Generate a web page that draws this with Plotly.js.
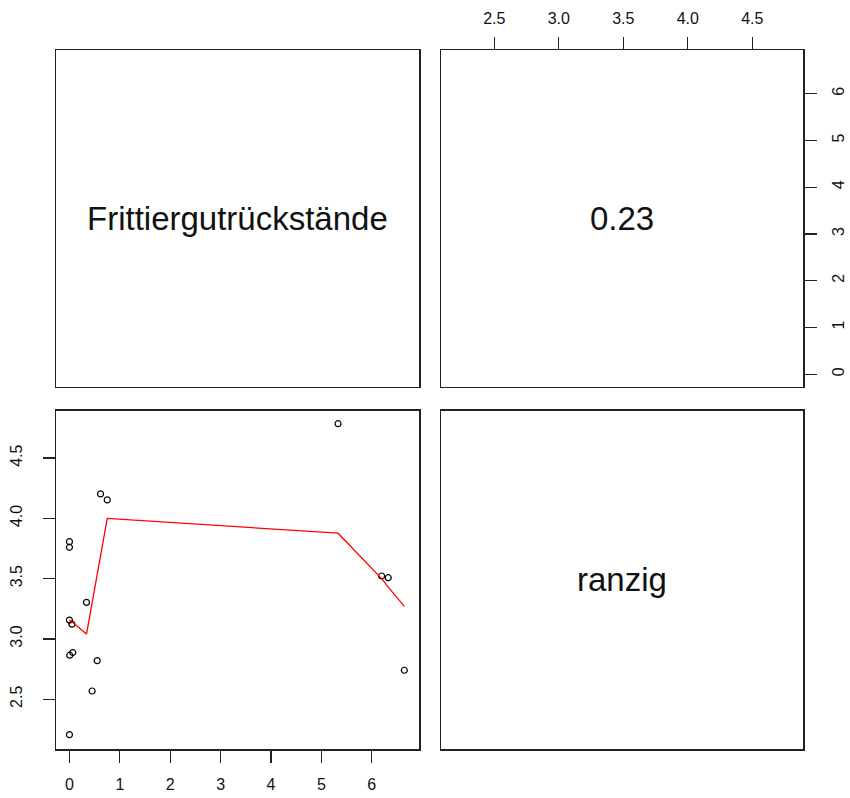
<!DOCTYPE html>
<html>
<head>
<meta charset="utf-8">
<script src="https://cdn.plot.ly/plotly-3.0.1.min.js"></script>
<style>html,body{margin:0;padding:0;background:#fff;}</style>
</head>
<body>
<div id="chart" style="width:850px;height:798px;"></div>
<script>
// Scatter data: Frittiergutrückstände (x) vs ranzig (y)
const fritt = [5.33, 0.617, 0.75, 0.0, 0.0, 6.195, 6.327, 0.338, 0.0, 0.05, 0.066, 0.006, 0.55, 6.646, 0.45, 0.0];
const ranzig = [4.785, 4.203, 4.153, 3.807, 3.76, 3.522, 3.508, 3.303, 3.156, 3.122, 2.887, 2.865, 2.82, 2.74, 2.568, 2.206];
// Smoothed (lowess) line
const smoothX = [0.0, 0.338, 0.45, 0.55, 0.617, 0.75, 5.33, 6.195, 6.327, 6.646];
const smoothY = [3.16, 3.04, 3.30, 3.53, 3.69, 4.0, 3.877, 3.50, 3.43, 3.27];
// Panel labels
const varNames = ["Frittiergutrückstände", "ranzig"];
const corrText = "0.23";
// Tick labels
const fTicks = [0, 1, 2, 3, 4, 5, 6];
const fTickText = ["0", "1", "2", "3", "4", "5", "6"];
const rTicks = [2.5, 3.0, 3.5, 4.0, 4.5];
const rTickText = ["2.5", "3.0", "3.5", "4.0", "4.5"];

const fRange = [-0.267, 6.937];
const rRange = [2.087, 4.893];

const W = 850, H = 798;
const colL = [56 / W, 419 / W], colR = [441 / W, 803 / W];
const rowT = [(H - 386.7) / H, (H - 50) / H], rowB = [(H - 749) / H, (H - 410.7) / H];

const tickFont = {family: "Liberation Sans, Arial, sans-serif", size: 16, color: "#111"};
const bigFont = {family: "Liberation Sans, Arial, sans-serif", size: 33, color: "#111"};
const lineCol = "#222";

function box(extra) {
  return Object.assign({
    showline: true, mirror: true, linecolor: lineCol, linewidth: 1.5,
    showgrid: false, zeroline: false, ticks: "", showticklabels: false,
    fixedrange: true
  }, extra);
}

const traces = [
  {
    x: fritt, y: ranzig, xaxis: "x", yaxis: "y", type: "scatter", mode: "markers",
    marker: {symbol: "circle-open", size: 6, color: "#000", line: {width: 1.2, color: "#000"}},
    hoverinfo: "skip"
  },
  {
    x: smoothX, y: smoothY, xaxis: "x", yaxis: "y", type: "scatter", mode: "lines",
    line: {color: "#ff0000", width: 1.3}, hoverinfo: "skip"
  },
  // invisible traces to set up the other panels
  {x: [], y: [], xaxis: "x2", yaxis: "y2", type: "scatter", mode: "markers"},
  {x: [], y: [], xaxis: "x3", yaxis: "y3", type: "scatter", mode: "markers"},
  {x: [], y: [], xaxis: "x4", yaxis: "y4", type: "scatter", mode: "markers"}
];

const layout = {
  width: W, height: H,
  margin: {l: 0, r: 0, t: 0, b: 0, pad: 0},
  paper_bgcolor: "#fff", plot_bgcolor: "#fff",
  showlegend: false,
  // bottom-left scatter
  xaxis: box({domain: colL, anchor: "y", range: fRange, ticks: "outside", ticklen: 12, tickwidth: 1.2,
    tickcolor: lineCol, showticklabels: true, tickvals: fTicks, ticktext: fTickText, tickfont: tickFont,
    ticklabelstandoff: 8}),
  yaxis: box({domain: rowB, anchor: "x", range: rRange, ticks: "outside", ticklen: 12, tickwidth: 1.2,
    tickcolor: lineCol, showticklabels: true, tickvals: rTicks, ticktext: rTickText, tickfont: tickFont,
    tickangle: -90, ticklabelstandoff: 14}),
  // top-right (correlation) panel with top and right axes
  xaxis2: box({domain: colR, anchor: "y2", side: "top", range: rRange, ticks: "outside", ticklen: 12, tickwidth: 1.2,
    tickcolor: lineCol, showticklabels: true, tickvals: rTicks, ticktext: rTickText, tickfont: tickFont,
    ticklabelstandoff: 6}),
  yaxis2: box({domain: rowT, anchor: "x2", side: "right", range: fRange, ticks: "outside", ticklen: 12, tickwidth: 1.2,
    tickcolor: lineCol, showticklabels: true, tickvals: fTicks, ticktext: fTickText, tickfont: tickFont,
    tickangle: -90, ticklabelstandoff: 8}),
  // top-left label panel
  xaxis3: box({domain: colL, anchor: "y3", range: [0, 1]}),
  yaxis3: box({domain: rowT, anchor: "x3", range: [0, 1]}),
  // bottom-right label panel
  xaxis4: box({domain: colR, anchor: "y4", range: [0, 1]}),
  yaxis4: box({domain: rowB, anchor: "x4", range: [0, 1]}),
  annotations: [
    {xref: "x3", yref: "y3", x: 0.5, y: 0.5, text: varNames[0], showarrow: false, font: bigFont, xanchor: "center", yanchor: "middle"},
    {xref: "x2", yref: "y2", x: (rRange[0] + rRange[1]) / 2, y: (fRange[0] + fRange[1]) / 2, text: corrText, showarrow: false, font: bigFont, xanchor: "center", yanchor: "middle"},
    {xref: "x4", yref: "y4", x: 0.5, y: 0.5, text: varNames[1], showarrow: false, font: bigFont, xanchor: "center", yanchor: "middle"}
  ]
};

Plotly.newPlot("chart", traces, layout, {staticPlot: true, displayModeBar: false});
</script>
</body>
</html>
